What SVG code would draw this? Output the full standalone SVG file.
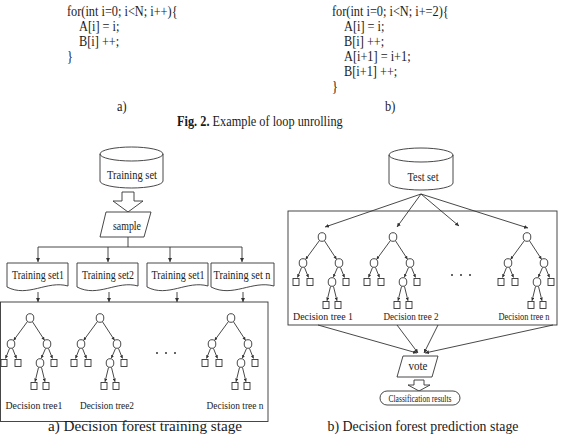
<svg xmlns="http://www.w3.org/2000/svg" xmlns:xlink="http://www.w3.org/1999/xlink" width="565" height="438" viewBox="0 0 565 438">
<style>
  .ln { fill: none; stroke: #333; stroke-width: 0.9; }
  .sh { fill: #fff; stroke: #333; stroke-width: 0.9; }
  .code { font-family: "Liberation Serif", "Times New Roman", serif; font-size: 14px; fill: #1a1a1a; transform-box: fill-box; transform-origin: left center; transform: scaleX(0.88); }
  .cap { font-family: "Liberation Serif", "Times New Roman", serif; font-size: 14px; fill: #1a1a1a; text-anchor: middle; }
  .lbl { font-family: "Liberation Serif", "Times New Roman", serif; font-size: 12px; fill: #222; text-anchor: middle; }
  .sm { font-family: "Liberation Serif", "Times New Roman", serif; font-size: 11px; fill: #222; text-anchor: middle; }
  .arr { marker-end: url(#ah); }
  .tarr { marker-end: url(#ahs); }
</style>
<defs>
  <marker id="ah" viewBox="0 0 6 6" refX="6" refY="3" markerWidth="4" markerHeight="4" orient="auto" markerUnits="userSpaceOnUse">
    <path d="M0,0 L6,3 L0,6 z" fill="#333"/>
  </marker>
  <marker id="ahs" viewBox="0 0 6 6" refX="6" refY="3" markerWidth="3.2" markerHeight="3.2" orient="auto" markerUnits="userSpaceOnUse">
    <path d="M0,0 L6,3 L0,6 z" fill="#333"/>
  </marker>
  <g id="treeShape">
    <g class="ln">
      <line class="tarr" x1="-2.6" y1="3.6" x2="-16.4" y2="22.4"/>
      <line class="tarr" x1="2.5" y1="3.8" x2="14.5" y2="22.2"/>
      <line class="tarr" x1="-20.5" y1="30.5" x2="-24.5" y2="40.5"/>
      <line class="tarr" x1="-17.5" y1="30.5" x2="-13.5" y2="40.5"/>
      <line class="tarr" x1="15.5" y1="30.5" x2="11.3" y2="40.3"/>
      <line class="tarr" x1="18.5" y1="30.5" x2="22.5" y2="40.5"/>
      <line class="tarr" x1="8.5" y1="49.5" x2="5" y2="63.8"/>
      <line class="tarr" x1="11.5" y1="49.5" x2="15" y2="63.8"/>
    </g>
    <g class="sh">
      <ellipse cx="0" cy="0" rx="3.8" ry="4.3"/>
      <ellipse cx="-19" cy="26" rx="3.8" ry="4.3"/>
      <ellipse cx="17" cy="26" rx="3.8" ry="4.3"/>
      <ellipse cx="10" cy="45" rx="3.8" ry="4.3"/>
      <rect x="-29" y="41.5" width="6" height="7"/>
      <rect x="-15" y="41.5" width="6" height="7"/>
      <rect x="21" y="41.5" width="6" height="7"/>
      <rect x="1" y="64.5" width="6" height="7"/>
      <rect x="13" y="64.5" width="6" height="7"/>
    </g>
  </g>
</defs>
<rect width="565" height="438" fill="#fff"/>

<!-- Code listings -->
<g id="code-a">
  <text class="code" x="67" y="16.5">for(int i=0; i&lt;N; i++){</text>
  <text class="code" x="79" y="31.5">A[i] = i;</text>
  <text class="code" x="79" y="46.5">B[i] ++;</text>
  <text class="code" x="67" y="61.5">}</text>
  <text class="code" x="117" y="111.5">a)</text>
</g>
<g id="code-b">
  <text class="code" x="332" y="16.5">for(int i=0; i&lt;N; i+=2){</text>
  <text class="code" x="344" y="31.5">A[i] = i;</text>
  <text class="code" x="344" y="46.5">B[i] ++;</text>
  <text class="code" x="344" y="61.5">A[i+1] = i+1;</text>
  <text class="code" x="344" y="76.5">B[i+1] ++;</text>
  <text class="code" x="332" y="91.5">}</text>
  <text class="code" x="385" y="111.5">b)</text>
</g>
<g id="fig-caption">
  <text class="code" x="177" y="126.5"><tspan font-weight="bold">Fig. 2.</tspan> Example of loop unrolling</text>
</g>

<!-- Connectors -->
<g id="connectors" class="ln">
  <polygon points="122,192 134,192 134,201 143,201 128,212 113,201 122,201" fill="#fff"/>
  <polyline points="128,237 128,247"/>
  <line x1="38" y1="247" x2="242" y2="247"/>
  <line class="arr" x1="38" y1="247" x2="38" y2="262"/>
  <line class="arr" x1="108" y1="247" x2="108" y2="262"/>
  <line class="arr" x1="170" y1="247" x2="170" y2="262"/>
  <line class="arr" x1="242" y1="247" x2="242" y2="262"/>
  <line class="arr" x1="38" y1="292" x2="38" y2="302"/>
  <line class="arr" x1="109" y1="292" x2="109" y2="302"/>
  <line class="arr" x1="177" y1="292" x2="177" y2="302"/>
  <line class="arr" x1="243" y1="292" x2="243" y2="302"/>
  <line class="arr" x1="421" y1="194" x2="325" y2="227"/>
  <line class="arr" x1="421" y1="194" x2="397" y2="227"/>
  <line class="arr" x1="421" y1="194" x2="459" y2="226"/>
  <line class="arr" x1="421" y1="194" x2="528" y2="228"/>
  <line class="arr" x1="318" y1="325" x2="417" y2="353"/>
  <line class="arr" x1="397" y1="325" x2="418" y2="353"/>
  <line class="arr" x1="438" y1="325" x2="424" y2="353"/>
  <line class="arr" x1="553" y1="325" x2="425" y2="353"/>
  <polygon points="414,380 424,380 424,385 430,385 419,391 408,385 414,385" fill="#fff"/>
</g>

<!-- Left: training stage -->
<g id="training-set">
  <path class="sh" d="M100,154 A31.5,7 0 0 1 163,154 V181 A31.5,7 0 0 1 100,181 Z"/>
  <path class="ln" d="M100,154 A31.5,7 0 0 0 163,154"/>
  <text class="lbl" x="132" y="179" textLength="50" lengthAdjust="spacingAndGlyphs">Training set</text>
</g>
<g id="sample">
  <polygon class="sh" points="106,212 151,212 144,237 100,237"/>
  <text class="lbl" x="127" y="230" textLength="28" lengthAdjust="spacingAndGlyphs">sample</text>
</g>
<g id="doc1">
  <path class="sh" d="M7,263 H68 V286 C47,280 28,298 7,287 Z"/>
  <text class="lbl" x="38" y="279" textLength="52" lengthAdjust="spacingAndGlyphs">Training set1</text>
</g>
<g id="doc2">
  <path class="sh" d="M77,263 H138 V286 C117,280 98,298 77,287 Z"/>
  <text class="lbl" x="108" y="279" textLength="52" lengthAdjust="spacingAndGlyphs">Training set2</text>
</g>
<g id="doc3">
  <path class="sh" d="M147,263 H208 V286 C187,280 168,298 147,287 Z"/>
  <text class="lbl" x="178" y="279" textLength="53" lengthAdjust="spacingAndGlyphs">Training set1</text>
</g>
<g id="doc4">
  <path class="sh" d="M211,263 H274 V286 C252,280 233,298 211,287 Z"/>
  <text class="lbl" x="242" y="279" textLength="57" lengthAdjust="spacingAndGlyphs">Training set n</text>
</g>
<g id="forest-train">
  <rect class="ln" x="0.5" y="302" width="267.5" height="119.5"/>
  <use xlink:href="#treeShape" x="30" y="318"/>
  <use xlink:href="#treeShape" x="100" y="318"/>
  <use xlink:href="#treeShape" x="231" y="318"/>
  <g fill="#333"><circle cx="157" cy="353" r="1"/><circle cx="166" cy="353" r="1"/><circle cx="175" cy="353" r="1"/></g>
  <text class="sm" x="34" y="409" textLength="57" lengthAdjust="spacingAndGlyphs">Decision tree1</text>
  <text class="sm" x="107" y="409" textLength="54" lengthAdjust="spacingAndGlyphs">Decision tree2</text>
  <text class="sm" x="235" y="409" textLength="57" lengthAdjust="spacingAndGlyphs">Decision tree n</text>
</g>
<g id="caption-a">
  <text class="cap" x="145" y="431" textLength="194" lengthAdjust="spacingAndGlyphs">a) Decision forest training stage</text>
</g>

<!-- Right: prediction stage -->
<g id="test-set">
  <path class="sh" d="M389,155 A32,7 0 0 1 453,155 V183 A32,7 0 0 1 389,183 Z"/>
  <path class="ln" d="M389,155 A32,7 0 0 0 453,155"/>
  <text class="lbl" x="423" y="181" textLength="31" lengthAdjust="spacingAndGlyphs">Test set</text>
</g>
<g id="forest-predict">
  <rect class="ln" x="288" y="211" width="269" height="114"/>
  <use xlink:href="#treeShape" x="322" y="237"/>
  <use xlink:href="#treeShape" x="393" y="237"/>
  <use xlink:href="#treeShape" x="527" y="237"/>
  <g fill="#333"><circle cx="452" cy="275" r="1"/><circle cx="461" cy="275" r="1"/><circle cx="470" cy="275" r="1"/></g>
  <text class="sm" x="323" y="320" textLength="60" lengthAdjust="spacingAndGlyphs">Decision tree 1</text>
  <text class="sm" x="411" y="320" textLength="55" lengthAdjust="spacingAndGlyphs">Decision tree 2</text>
  <text class="sm" x="524" y="320" textLength="51" lengthAdjust="spacingAndGlyphs">Decision tree n</text>
</g>
<g id="vote">
  <polygon class="sh" points="403,356 438,356 432,377 397,377"/>
  <text class="lbl" x="418" y="370" textLength="19" lengthAdjust="spacingAndGlyphs">vote</text>
</g>
<g id="classification-results">
  <rect class="sh" x="380" y="391" width="80" height="14" rx="7" ry="7"/>
  <text class="sm" x="420" y="401.5" textLength="63" lengthAdjust="spacingAndGlyphs">Classification results</text>
</g>
<g id="caption-b">
  <text class="cap" x="423" y="431" textLength="191" lengthAdjust="spacingAndGlyphs">b) Decision forest prediction stage</text>
</g>
</svg>
